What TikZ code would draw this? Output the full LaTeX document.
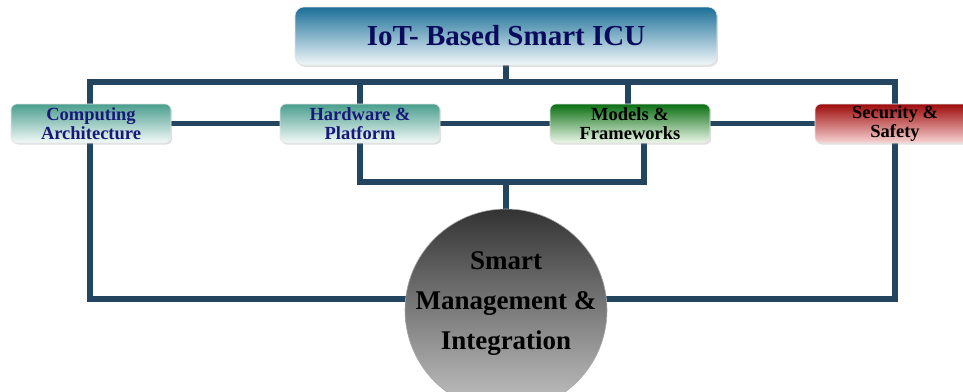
\documentclass[tikz,border=0pt]{standalone}
\usepackage{fontspec}
\setmainfont{Liberation Serif}
\usetikzlibrary{shadows,backgrounds}
\definecolor{linec}{HTML}{24455F}
\definecolor{titletop}{HTML}{1B6F98}
\definecolor{titlebot}{HTML}{F2F8FA}
\definecolor{tealtop}{HTML}{4A9E8E}
\definecolor{tealbot}{HTML}{F4FAF8}
\definecolor{greentop}{HTML}{0A6E12}
\definecolor{greenbot}{HTML}{EEF8EA}
\definecolor{redtop}{HTML}{9E0A0A}
\definecolor{redbot}{HTML}{F8D4D4}
\definecolor{circtop}{HTML}{333333}
\definecolor{circbot}{HTML}{C4C4C4}
\definecolor{navytext}{HTML}{0B0B5E}
\definecolor{bluetext}{HTML}{18187A}
\tikzset{
  conn/.style={draw=linec, line width=5.5pt},
  boxbase/.style={rectangle, rounded corners=6pt, minimum width=160pt, minimum height=39pt,
    inner sep=0pt, align=center, draw=white!80!gray, line width=0.6pt,
    drop shadow={shadow xshift=1.2pt, shadow yshift=-1.5pt, opacity=0.25},
    font=\bfseries\fontsize{18.5}{19.5}\selectfont},
  tealbox/.style={boxbase, top color=tealtop, bottom color=tealbot, text=bluetext},
  greenbox/.style={boxbase, top color=greentop, bottom color=greenbot, text=black},
  redbox/.style={boxbase, top color=redtop, bottom color=redbot, text=black},
  titlebox/.style={rectangle, rounded corners=9pt, minimum width=422pt, minimum height=58pt,
    inner sep=0pt, top color=titletop, bottom color=titlebot, draw=white!80!gray, line width=0.6pt,
    drop shadow={shadow xshift=1.2pt, shadow yshift=-1.8pt, opacity=0.25},
    text=navytext, font=\bfseries\fontsize{29}{32}\selectfont},
  circbox/.style={circle, minimum size=202pt, inner sep=0pt, top color=circtop, bottom color=circbot,
    draw=gray!70, line width=0.6pt},
  circtxt/.style={align=center, text=black, inner sep=0pt, font=\bfseries\fontsize{27}{40}\selectfont}
}
\begin{document}
\begin{tikzpicture}[x=1pt,y=-1pt]
\useasboundingbox (0,0) rectangle (963,391);
\node[titlebox] (title) at (506,36) {IoT- Based Smart ICU};
\node[tealbox] (comp) at (91,123.5) {Computing\\Architecture};
\node[tealbox] (hw) at (360,123.5) {Hardware \&\\Platform};
\node[greenbox] (mod) at (630,123.5) {Models \&\\Frameworks};
\node[redbox] (sec) at (895,123.5) {Security \&\\Safety};
\node[circbox] (circ) at (506,310) {};
\node[circtxt] (ctext) at (506,304) {Smart\\Management \&\\Integration};
\coordinate (busL) at (90,82);
\coordinate (busR) at (895,82);
\coordinate (busM) at (628,82);
\coordinate (lowL) at (90,299);
\coordinate (lowR) at (895,299);
\coordinate (midL) at (360,182);
\coordinate (midR) at (644,182);
\begin{scope}[on background layer]
  \fill[white] (0,0) rectangle (963,391);
  \draw[conn] (title.south) -- (title.south |- busL);
  \draw[conn, line cap=rect] (busL) -- (busR);
  \draw[conn] (hw.north |- busL) -- (hw.north);
  \draw[conn] (busM) -- (busM |- mod.north);
  \draw[conn, line join=miter] (busL) -- (lowL) -- (lowL -| circ.center);
  \draw[conn, line join=miter] (busR) -- (lowR) -- (lowR -| circ.center);
  \draw[conn] (comp) -- (hw);
  \draw[conn] (hw) -- (mod);
  \draw[conn] (mod) -- (sec);
  \draw[conn, line join=miter] (hw.south) -- (midL) -- (midR) -- (midR |- mod.south);
  \draw[conn] (circ.north |- midL) -- (circ.north);
\end{scope}
\end{tikzpicture}
\end{document}
